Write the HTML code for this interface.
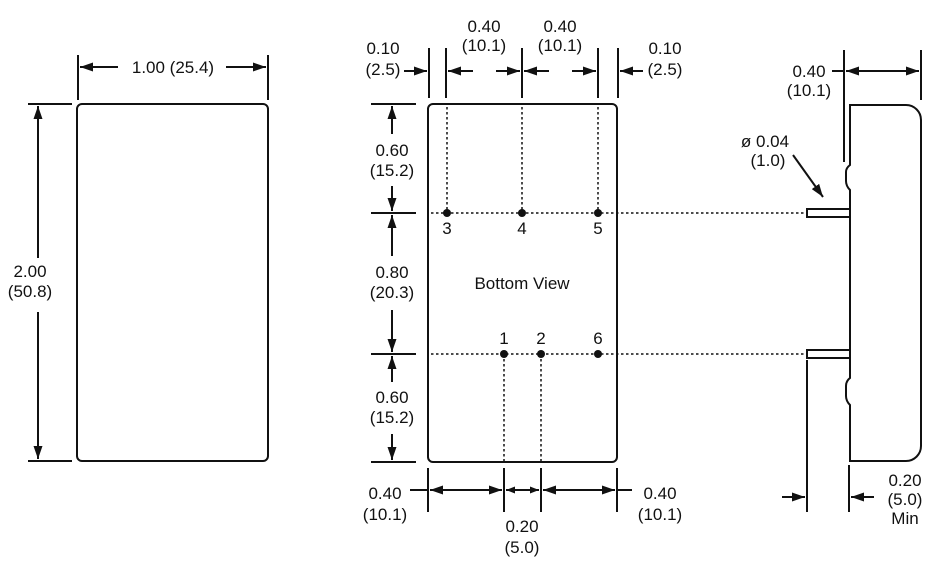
<!DOCTYPE html>
<html><head><meta charset="utf-8"><style>
body{margin:0;background:#fff}
svg{display:block}
text{font-family:"Liberation Sans",sans-serif;font-size:17px;fill:#111}
</style></head><body>
<svg width="945" height="562" viewBox="0 0 945 562" xmlns="http://www.w3.org/2000/svg">
<defs>
<marker id="a" viewBox="0 0 13 9" refX="13" refY="4.5" markerWidth="13" markerHeight="9" orient="auto" markerUnits="userSpaceOnUse"><path d="M0,0L13,4.5L0,9z" fill="#111"/></marker>
<marker id="s" viewBox="0 0 9 7" refX="9" refY="3.5" markerWidth="9" markerHeight="7" orient="auto" markerUnits="userSpaceOnUse"><path d="M0,0L9,3.5L0,7z" fill="#111"/></marker>
</defs>
<g stroke="#111" stroke-width="2" fill="none">
<rect x="77" y="104" width="191" height="357" rx="5"/>
<line x1="78" y1="55" x2="78" y2="100"/><line x1="268" y1="55" x2="268" y2="100"/>
<line x1="118" y1="67" x2="80" y2="67" marker-end="url(#a)"/>
<line x1="226" y1="67" x2="266" y2="67" marker-end="url(#a)"/>
<line x1="28" y1="104" x2="72" y2="104"/><line x1="28" y1="461" x2="72" y2="461"/>
<line x1="38" y1="258" x2="38" y2="106" marker-end="url(#a)"/>
<line x1="38" y1="312" x2="38" y2="459" marker-end="url(#a)"/>
<rect x="428" y="104" width="189" height="358" rx="5"/>
<line x1="429" y1="48" x2="429" y2="98"/><line x1="446" y1="48" x2="446" y2="98"/>
<line x1="522" y1="48" x2="522" y2="98"/><line x1="598" y1="48" x2="598" y2="98"/><line x1="618" y1="48" x2="618" y2="98"/>
<line x1="404" y1="71" x2="427" y2="71" marker-end="url(#a)"/>
<line x1="473" y1="71" x2="448" y2="71" marker-end="url(#a)"/>
<line x1="496" y1="71" x2="520" y2="71" marker-end="url(#a)"/>
<line x1="549" y1="71" x2="524" y2="71" marker-end="url(#a)"/>
<line x1="572" y1="71" x2="596" y2="71" marker-end="url(#a)"/>
<line x1="643" y1="71" x2="620" y2="71" marker-end="url(#a)"/>
<line x1="371" y1="104" x2="416" y2="104"/><line x1="371" y1="213" x2="416" y2="213"/>
<line x1="371" y1="354" x2="416" y2="354"/><line x1="371" y1="462" x2="416" y2="462"/>
<line x1="392" y1="134" x2="392" y2="106" marker-end="url(#a)"/>
<line x1="392" y1="186" x2="392" y2="211" marker-end="url(#a)"/>
<line x1="392" y1="256" x2="392" y2="215" marker-end="url(#a)"/>
<line x1="392" y1="310" x2="392" y2="352" marker-end="url(#a)"/>
<line x1="392" y1="382" x2="392" y2="356" marker-end="url(#a)"/>
<line x1="392" y1="434" x2="392" y2="460" marker-end="url(#a)"/>
<g stroke-dasharray="2.5,2.5" stroke-width="1.5">
<line x1="447" y1="107" x2="447" y2="213"/><line x1="522" y1="107" x2="522" y2="213"/><line x1="598" y1="107" x2="598" y2="213"/>
<line x1="504" y1="354" x2="504" y2="462"/><line x1="541" y1="354" x2="541" y2="462"/>
<line x1="431" y1="213" x2="807" y2="213"/><line x1="431" y1="354" x2="807" y2="354"/>
</g>
<line x1="428" y1="468" x2="428" y2="512"/><line x1="617" y1="468" x2="617" y2="512"/>
<line x1="504" y1="468" x2="504" y2="512"/><line x1="541" y1="468" x2="541" y2="512"/>
<line x1="410" y1="490" x2="428" y2="490"/><line x1="617" y1="490" x2="632" y2="490"/>
<line x1="466" y1="490" x2="430" y2="490" marker-end="url(#a)"/>
<line x1="466" y1="490" x2="502" y2="490" marker-end="url(#a)"/>
<line x1="522" y1="490" x2="506" y2="490" marker-end="url(#s)"/>
<line x1="522" y1="490" x2="539" y2="490" marker-end="url(#s)"/>
<line x1="579" y1="490" x2="543" y2="490" marker-end="url(#a)"/>
<line x1="579" y1="490" x2="615" y2="490" marker-end="url(#a)"/>
<path d="M850,105 H906 A15,15 0 0 1 921,120 V446 A15,15 0 0 1 906,461 H850 V405 Q846,401 846,396 V386 Q846,381 850,378 V190 Q846,186 846,181 V172 Q846,168 850,165 Z"/>
<rect x="807" y="209" width="43" height="8"/>
<rect x="807" y="350" width="43" height="8"/>
<line x1="844" y1="50" x2="844" y2="162"/><line x1="921" y1="50" x2="921" y2="100"/>
<line x1="832" y1="71" x2="844" y2="71"/>
<line x1="882" y1="71" x2="846" y2="71" marker-end="url(#a)"/>
<line x1="882" y1="71" x2="919" y2="71" marker-end="url(#a)"/>
<line x1="793" y1="155" x2="823" y2="197" marker-end="url(#a)"/>
<line x1="807" y1="360" x2="807" y2="512"/><line x1="849" y1="465" x2="849" y2="512"/>
<line x1="782" y1="497" x2="805" y2="497" marker-end="url(#a)"/>
<line x1="874" y1="497" x2="851" y2="497" marker-end="url(#a)"/>
</g>
<g fill="#111">
<circle cx="447" cy="213" r="4"/><circle cx="522" cy="213" r="4"/><circle cx="598" cy="213" r="4"/>
<circle cx="504" cy="354" r="4"/><circle cx="541" cy="354" r="4"/><circle cx="598" cy="354" r="4"/>
</g>
<g text-anchor="middle">
<text x="173" y="73">1.00 (25.4)</text>
<text x="30" y="277">2.00</text><text x="30" y="297">(50.8)</text>
<text x="383" y="54">0.10</text><text x="383" y="75">(2.5)</text>
<text x="484" y="32">0.40</text><text x="484" y="51">(10.1)</text>
<text x="560" y="32">0.40</text><text x="560" y="51">(10.1)</text>
<text x="665" y="54">0.10</text><text x="665" y="75">(2.5)</text>
<text x="392" y="156">0.60</text><text x="392" y="176">(15.2)</text>
<text x="392" y="278">0.80</text><text x="392" y="298">(20.3)</text>
<text x="392" y="403">0.60</text><text x="392" y="423">(15.2)</text>
<text x="447" y="234" font-size="15">3</text><text x="522" y="234" font-size="15">4</text><text x="598" y="234" font-size="15">5</text>
<text x="504" y="344" font-size="15">1</text><text x="541" y="344" font-size="15">2</text><text x="598" y="344" font-size="15">6</text>
<text x="522" y="289" font-size="18">Bottom View</text>
<text x="385" y="499">0.40</text><text x="385" y="520">(10.1)</text>
<text x="660" y="499">0.40</text><text x="660" y="520">(10.1)</text>
<text x="522" y="532">0.20</text><text x="522" y="553">(5.0)</text>
<text x="809" y="77">0.40</text><text x="809" y="96">(10.1)</text>
<text x="765" y="147">ø 0.04</text><text x="768" y="166">(1.0)</text>
<text x="905" y="486">0.20</text><text x="905" y="505">(5.0)</text><text x="905" y="524">Min</text>
</g>
</svg>
</body></html>
